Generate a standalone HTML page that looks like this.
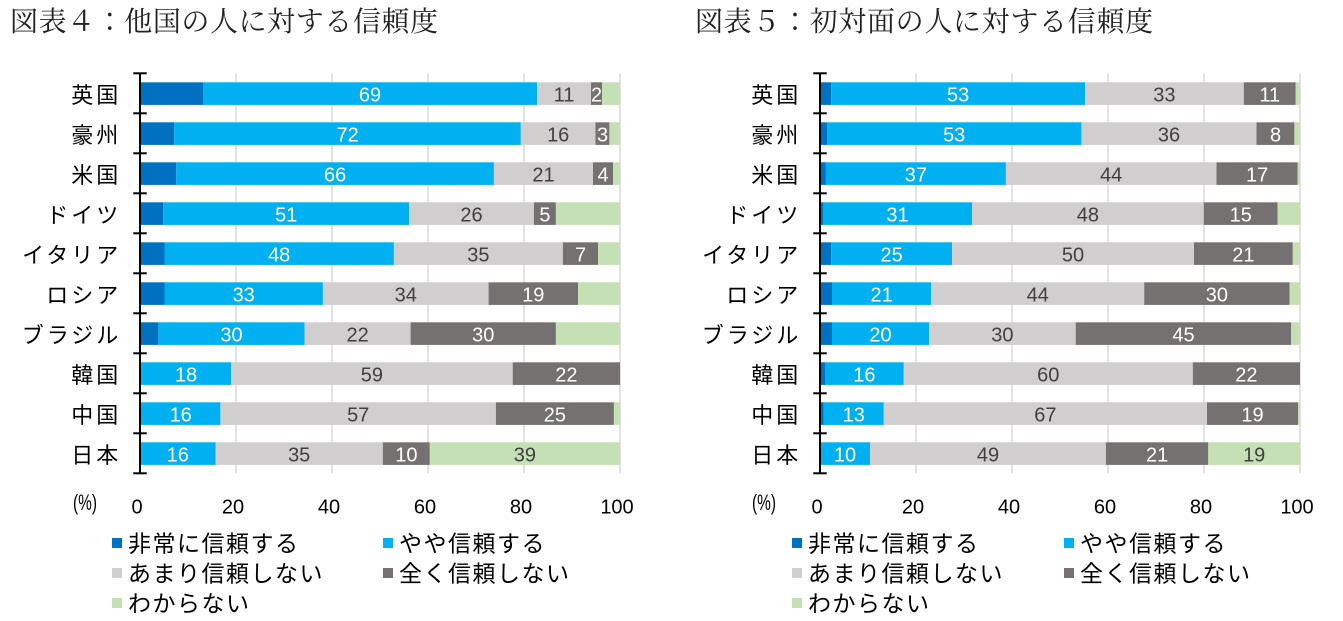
<!DOCTYPE html>
<html><head><meta charset="utf-8"><style>
html,body{margin:0;padding:0;background:#fff;}
svg{display:block;}
.t{font-family:"Liberation Serif","Noto Serif CJK JP","Noto Serif CJK SC",serif;font-size:28px;fill:#222;}
.c{font-family:"Liberation Sans","Noto Sans CJK JP",sans-serif;font-size:22px;fill:#000;letter-spacing:3px;text-anchor:end;}
.v{font-family:"Liberation Sans","Noto Sans CJK JP",sans-serif;font-size:20px;text-anchor:middle;}
.w{fill:#fff;}.d{fill:#404040;}
.x{font-family:"Liberation Sans","Noto Sans CJK JP",sans-serif;font-size:20px;fill:#000;text-anchor:middle;}
.l{font-family:"Liberation Sans","Noto Sans CJK JP",sans-serif;font-size:23px;fill:#000;letter-spacing:1.5px;}
.p{font-family:"Liberation Sans","Noto Sans CJK JP",sans-serif;font-size:22px;fill:#000;}
</style></head><body>
<svg width="1343" height="621" viewBox="0 0 1343 621" xmlns="http://www.w3.org/2000/svg">
<rect width="1343" height="621" fill="#fff"/>
<text class="t" x="10" y="31" textLength="428" lengthAdjust="spacing">図表４：他国の人に対する信頼度</text>
<text class="t" x="695" y="31" textLength="458" lengthAdjust="spacing">図表５：初対面の人に対する信頼度</text>

<g stroke="#d9d9d9" stroke-width="1.5">
<line x1="236" y1="73.3" x2="236" y2="473.3"/><line x1="332" y1="73.3" x2="332" y2="473.3"/><line x1="428" y1="73.3" x2="428" y2="473.3"/><line x1="524" y1="73.3" x2="524" y2="473.3"/><line x1="620" y1="73.3" x2="620" y2="473.3"/>
</g>
<g>
<rect x="140" y="82.3" width="63" height="22.6" fill="#0070C0"/><rect x="203" y="82.3" width="334" height="22.6" fill="#00B0F0"/><rect x="537" y="82.3" width="54" height="22.6" fill="#D0CECE"/><rect x="591" y="82.3" width="11" height="22.6" fill="#767171"/><rect x="602" y="82.3" width="18" height="22.6" fill="#C5E0B4"/>
<rect x="140" y="122.3" width="34.3" height="22.6" fill="#0070C0"/><rect x="174.3" y="122.3" width="346.5" height="22.6" fill="#00B0F0"/><rect x="520.8" y="122.3" width="74.7" height="22.6" fill="#D0CECE"/><rect x="595.5" y="122.3" width="13.9" height="22.6" fill="#767171"/><rect x="609.4" y="122.3" width="10.6" height="22.6" fill="#C5E0B4"/>
<rect x="140" y="162.3" width="36.3" height="22.6" fill="#0070C0"/><rect x="176.3" y="162.3" width="317.6" height="22.6" fill="#00B0F0"/><rect x="493.9" y="162.3" width="99.1" height="22.6" fill="#D0CECE"/><rect x="593" y="162.3" width="20" height="22.6" fill="#767171"/><rect x="613" y="162.3" width="7" height="22.6" fill="#C5E0B4"/>
<rect x="140" y="202.3" width="23.3" height="22.6" fill="#0070C0"/><rect x="163.3" y="202.3" width="245.7" height="22.6" fill="#00B0F0"/><rect x="409" y="202.3" width="124.9" height="22.6" fill="#D0CECE"/><rect x="533.9" y="202.3" width="22" height="22.6" fill="#767171"/><rect x="555.9" y="202.3" width="64.1" height="22.6" fill="#C5E0B4"/>
<rect x="140" y="242.3" width="24.5" height="22.6" fill="#0070C0"/><rect x="164.5" y="242.3" width="229.4" height="22.6" fill="#00B0F0"/><rect x="393.9" y="242.3" width="169" height="22.6" fill="#D0CECE"/><rect x="562.9" y="242.3" width="35.1" height="22.6" fill="#767171"/><rect x="598" y="242.3" width="22" height="22.6" fill="#C5E0B4"/>
<rect x="140" y="282.3" width="24.5" height="22.6" fill="#0070C0"/><rect x="164.5" y="282.3" width="158.4" height="22.6" fill="#00B0F0"/><rect x="322.9" y="282.3" width="165.7" height="22.6" fill="#D0CECE"/><rect x="488.6" y="282.3" width="89.4" height="22.6" fill="#767171"/><rect x="578" y="282.3" width="42" height="22.6" fill="#C5E0B4"/>
<rect x="140" y="322.3" width="18.4" height="22.6" fill="#0070C0"/><rect x="158.4" y="322.3" width="146.1" height="22.6" fill="#00B0F0"/><rect x="304.5" y="322.3" width="106.1" height="22.6" fill="#D0CECE"/><rect x="410.6" y="322.3" width="145.3" height="22.6" fill="#767171"/><rect x="555.9" y="322.3" width="64.1" height="22.6" fill="#C5E0B4"/>
<rect x="140" y="362.3" width="1" height="22.6" fill="#0070C0"/><rect x="141" y="362.3" width="90" height="22.6" fill="#00B0F0"/><rect x="231" y="362.3" width="281.7" height="22.6" fill="#D0CECE"/><rect x="512.7" y="362.3" width="107.3" height="22.6" fill="#767171"/>
<rect x="140" y="402.3" width="1" height="22.6" fill="#0070C0"/><rect x="141" y="402.3" width="79.4" height="22.6" fill="#00B0F0"/><rect x="220.4" y="402.3" width="275.5" height="22.6" fill="#D0CECE"/><rect x="495.9" y="402.3" width="118" height="22.6" fill="#767171"/><rect x="613.9" y="402.3" width="6.1" height="22.6" fill="#C5E0B4"/>
<rect x="140" y="442.3" width="75.5" height="22.6" fill="#00B0F0"/><rect x="215.5" y="442.3" width="167.4" height="22.6" fill="#D0CECE"/><rect x="382.9" y="442.3" width="46.9" height="22.6" fill="#767171"/><rect x="429.8" y="442.3" width="190.2" height="22.6" fill="#C5E0B4"/>
</g>
<g stroke="#000" stroke-width="2">
<line x1="140" y1="73.3" x2="140" y2="473.3"/>
<line x1="133.3" y1="73.3" x2="146.7" y2="73.3"/><line x1="133.3" y1="113.3" x2="146.7" y2="113.3"/><line x1="133.3" y1="153.3" x2="146.7" y2="153.3"/><line x1="133.3" y1="193.3" x2="146.7" y2="193.3"/><line x1="133.3" y1="233.3" x2="146.7" y2="233.3"/><line x1="133.3" y1="273.3" x2="146.7" y2="273.3"/><line x1="133.3" y1="313.3" x2="146.7" y2="313.3"/><line x1="133.3" y1="353.3" x2="146.7" y2="353.3"/><line x1="133.3" y1="393.3" x2="146.7" y2="393.3"/><line x1="133.3" y1="433.3" x2="146.7" y2="433.3"/><line x1="133.3" y1="473.3" x2="146.7" y2="473.3"/>
</g>
<g class="v">
<text class="w" x="370" y="101.7">69</text><text class="d" x="564" y="101.7">11</text><text class="w" x="596.5" y="101.7">2</text>
<text class="w" x="347.6" y="141.7">72</text><text class="d" x="558.2" y="141.7">16</text><text class="w" x="602.5" y="141.7">3</text>
<text class="w" x="335.1" y="181.7">66</text><text class="d" x="543.5" y="181.7">21</text><text class="w" x="603" y="181.7">4</text>
<text class="w" x="286.2" y="221.7">51</text><text class="d" x="471.5" y="221.7">26</text><text class="w" x="544.9" y="221.7">5</text>
<text class="w" x="279.2" y="261.7">48</text><text class="d" x="478.4" y="261.7">35</text><text class="w" x="580.5" y="261.7">7</text>
<text class="w" x="243.7" y="301.7">33</text><text class="d" x="405.8" y="301.7">34</text><text class="w" x="533.3" y="301.7">19</text>
<text class="w" x="231.5" y="341.7">30</text><text class="d" x="357.6" y="341.7">22</text><text class="w" x="483.3" y="341.7">30</text>
<text class="w" x="186" y="381.7">18</text><text class="d" x="371.9" y="381.7">59</text><text class="w" x="566.4" y="381.7">22</text>
<text class="w" x="180.7" y="421.7">16</text><text class="d" x="358.2" y="421.7">57</text><text class="w" x="554.9" y="421.7">25</text>
<text class="w" x="177.8" y="461.7">16</text><text class="d" x="299.2" y="461.7">35</text><text class="w" x="406.4" y="461.7">10</text><text class="d" x="524.9" y="461.7">39</text>
</g>
<g class="c">
<text x="121.3" y="102.9">英国</text><text x="121.3" y="142.9">豪州</text><text x="121.3" y="182.9">米国</text><text x="121.3" y="222.9">ドイツ</text><text x="121.3" y="262.9">イタリア</text><text x="121.3" y="302.9">ロシア</text><text x="121.3" y="342.9">ブラジル</text><text x="121.3" y="382.9">韓国</text><text x="121.3" y="422.9">中国</text><text x="121.3" y="462.9">日本</text>
</g>
<g class="x">
<text x="137" y="513.5">0</text><text x="233" y="513.5">20</text><text x="329" y="513.5">40</text><text x="425" y="513.5">60</text><text x="521" y="513.5">80</text><text x="617" y="513.5">100</text>
</g>
<text class="p" x="73" y="510" textLength="24" lengthAdjust="spacingAndGlyphs">(%)</text>
<rect x="112" y="538" width="10" height="10" fill="#0070C0"/><text class="l" x="128" y="551.7">非常に信頼する</text>
<rect x="383" y="538" width="10" height="10" fill="#00B0F0"/><text class="l" x="399" y="551.7">やや信頼する</text>
<rect x="112" y="568" width="10" height="10" fill="#D0CECE"/><text class="l" x="128" y="581.7">あまり信頼しない</text>
<rect x="383" y="568" width="10" height="10" fill="#767171"/><text class="l" x="399" y="581.7">全く信頼しない</text>
<rect x="112" y="598" width="10" height="10" fill="#C5E0B4"/><text class="l" x="128" y="611.7">わからない</text>

<g stroke="#d9d9d9" stroke-width="1.5">
<line x1="916" y1="73.3" x2="916" y2="473.3"/><line x1="1012" y1="73.3" x2="1012" y2="473.3"/><line x1="1108" y1="73.3" x2="1108" y2="473.3"/><line x1="1204" y1="73.3" x2="1204" y2="473.3"/><line x1="1300" y1="73.3" x2="1300" y2="473.3"/>
</g>
<g>
<rect x="820" y="82.3" width="11.2" height="22.6" fill="#0070C0"/><rect x="831.2" y="82.3" width="253.8" height="22.6" fill="#00B0F0"/><rect x="1085" y="82.3" width="158.8" height="22.6" fill="#D0CECE"/><rect x="1243.8" y="82.3" width="51.9" height="22.6" fill="#767171"/><rect x="1295.7" y="82.3" width="4.3" height="22.6" fill="#C5E0B4"/>
<rect x="820" y="122.3" width="7" height="22.6" fill="#0070C0"/><rect x="827" y="122.3" width="254.4" height="22.6" fill="#00B0F0"/><rect x="1081.4" y="122.3" width="175.1" height="22.6" fill="#D0CECE"/><rect x="1256.5" y="122.3" width="37.9" height="22.6" fill="#767171"/><rect x="1294.4" y="122.3" width="5.6" height="22.6" fill="#C5E0B4"/>
<rect x="820" y="162.3" width="5.9" height="22.6" fill="#0070C0"/><rect x="825.9" y="162.3" width="180" height="22.6" fill="#00B0F0"/><rect x="1005.9" y="162.3" width="210.6" height="22.6" fill="#D0CECE"/><rect x="1216.5" y="162.3" width="81.2" height="22.6" fill="#767171"/><rect x="1297.7" y="162.3" width="2.3" height="22.6" fill="#C5E0B4"/>
<rect x="820" y="202.3" width="3" height="22.6" fill="#0070C0"/><rect x="823" y="202.3" width="149" height="22.6" fill="#00B0F0"/><rect x="972" y="202.3" width="231.8" height="22.6" fill="#D0CECE"/><rect x="1203.8" y="202.3" width="73.9" height="22.6" fill="#767171"/><rect x="1277.7" y="202.3" width="22.3" height="22.6" fill="#C5E0B4"/>
<rect x="820" y="242.3" width="11.2" height="22.6" fill="#0070C0"/><rect x="831.2" y="242.3" width="120.8" height="22.6" fill="#00B0F0"/><rect x="952" y="242.3" width="242" height="22.6" fill="#D0CECE"/><rect x="1194" y="242.3" width="98.8" height="22.6" fill="#767171"/><rect x="1292.8" y="242.3" width="7.2" height="22.6" fill="#C5E0B4"/>
<rect x="820" y="282.3" width="12" height="22.6" fill="#0070C0"/><rect x="832" y="282.3" width="99.2" height="22.6" fill="#00B0F0"/><rect x="931.2" y="282.3" width="213" height="22.6" fill="#D0CECE"/><rect x="1144.2" y="282.3" width="145.3" height="22.6" fill="#767171"/><rect x="1289.5" y="282.3" width="10.5" height="22.6" fill="#C5E0B4"/>
<rect x="820" y="322.3" width="12" height="22.6" fill="#0070C0"/><rect x="832" y="322.3" width="97" height="22.6" fill="#00B0F0"/><rect x="929" y="322.3" width="146.7" height="22.6" fill="#D0CECE"/><rect x="1075.7" y="322.3" width="215.5" height="22.6" fill="#767171"/><rect x="1291.2" y="322.3" width="8.8" height="22.6" fill="#C5E0B4"/>
<rect x="820" y="362.3" width="5" height="22.6" fill="#0070C0"/><rect x="825" y="362.3" width="78.8" height="22.6" fill="#00B0F0"/><rect x="903.8" y="362.3" width="289" height="22.6" fill="#D0CECE"/><rect x="1192.8" y="362.3" width="107.2" height="22.6" fill="#767171"/>
<rect x="820" y="402.3" width="3.8" height="22.6" fill="#0070C0"/><rect x="823.8" y="402.3" width="60" height="22.6" fill="#00B0F0"/><rect x="883.8" y="402.3" width="323.2" height="22.6" fill="#D0CECE"/><rect x="1207" y="402.3" width="91" height="22.6" fill="#767171"/><rect x="1298" y="402.3" width="2" height="22.6" fill="#C5E0B4"/>
<rect x="820" y="442.3" width="50" height="22.6" fill="#00B0F0"/><rect x="870" y="442.3" width="235.9" height="22.6" fill="#D0CECE"/><rect x="1105.9" y="442.3" width="102.4" height="22.6" fill="#767171"/><rect x="1208.3" y="442.3" width="91.7" height="22.6" fill="#C5E0B4"/>
</g>
<g stroke="#000" stroke-width="2">
<line x1="820" y1="73.3" x2="820" y2="473.3"/>
<line x1="813.3" y1="73.3" x2="826.7" y2="73.3"/><line x1="813.3" y1="113.3" x2="826.7" y2="113.3"/><line x1="813.3" y1="153.3" x2="826.7" y2="153.3"/><line x1="813.3" y1="193.3" x2="826.7" y2="193.3"/><line x1="813.3" y1="233.3" x2="826.7" y2="233.3"/><line x1="813.3" y1="273.3" x2="826.7" y2="273.3"/><line x1="813.3" y1="313.3" x2="826.7" y2="313.3"/><line x1="813.3" y1="353.3" x2="826.7" y2="353.3"/><line x1="813.3" y1="393.3" x2="826.7" y2="393.3"/><line x1="813.3" y1="433.3" x2="826.7" y2="433.3"/><line x1="813.3" y1="473.3" x2="826.7" y2="473.3"/>
</g>
<g class="v">
<text class="w" x="958.1" y="101.7">53</text><text class="d" x="1164.4" y="101.7">33</text><text class="w" x="1269.8" y="101.7">11</text>
<text class="w" x="954.2" y="141.7">53</text><text class="d" x="1169" y="141.7">36</text><text class="w" x="1275.5" y="141.7">8</text>
<text class="w" x="915.9" y="181.7">37</text><text class="d" x="1111.2" y="181.7">44</text><text class="w" x="1257.1" y="181.7">17</text>
<text class="w" x="897.5" y="221.7">31</text><text class="d" x="1087.9" y="221.7">48</text><text class="w" x="1240.8" y="221.7">15</text>
<text class="w" x="891.6" y="261.7">25</text><text class="d" x="1073" y="261.7">50</text><text class="w" x="1243.4" y="261.7">21</text>
<text class="w" x="881.6" y="301.7">21</text><text class="d" x="1037.7" y="301.7">44</text><text class="w" x="1216.9" y="301.7">30</text>
<text class="w" x="880.5" y="341.7">20</text><text class="d" x="1002.4" y="341.7">30</text><text class="w" x="1183.5" y="341.7">45</text>
<text class="w" x="864.4" y="381.7">16</text><text class="d" x="1048.3" y="381.7">60</text><text class="w" x="1246.4" y="381.7">22</text>
<text class="w" x="853.8" y="421.7">13</text><text class="d" x="1045.4" y="421.7">67</text><text class="w" x="1252.5" y="421.7">19</text>
<text class="w" x="845" y="461.7">10</text><text class="d" x="988" y="461.7">49</text><text class="w" x="1157.1" y="461.7">21</text><text class="d" x="1254.2" y="461.7">19</text>
</g>
<g class="c">
<text x="801.3" y="102.9">英国</text><text x="801.3" y="142.9">豪州</text><text x="801.3" y="182.9">米国</text><text x="801.3" y="222.9">ドイツ</text><text x="801.3" y="262.9">イタリア</text><text x="801.3" y="302.9">ロシア</text><text x="801.3" y="342.9">ブラジル</text><text x="801.3" y="382.9">韓国</text><text x="801.3" y="422.9">中国</text><text x="801.3" y="462.9">日本</text>
</g>
<g class="x">
<text x="817" y="513.5">0</text><text x="913" y="513.5">20</text><text x="1009" y="513.5">40</text><text x="1105" y="513.5">60</text><text x="1201" y="513.5">80</text><text x="1297" y="513.5">100</text>
</g>
<text class="p" x="752" y="510" textLength="24" lengthAdjust="spacingAndGlyphs">(%)</text>
<rect x="792" y="538" width="10" height="10" fill="#0070C0"/><text class="l" x="808" y="551.7">非常に信頼する</text>
<rect x="1064" y="538" width="10" height="10" fill="#00B0F0"/><text class="l" x="1080" y="551.7">やや信頼する</text>
<rect x="792" y="568" width="10" height="10" fill="#D0CECE"/><text class="l" x="808" y="581.7">あまり信頼しない</text>
<rect x="1064" y="568" width="10" height="10" fill="#767171"/><text class="l" x="1080" y="581.7">全く信頼しない</text>
<rect x="792" y="598" width="10" height="10" fill="#C5E0B4"/><text class="l" x="808" y="611.7">わからない</text>
</svg>
</body></html>
